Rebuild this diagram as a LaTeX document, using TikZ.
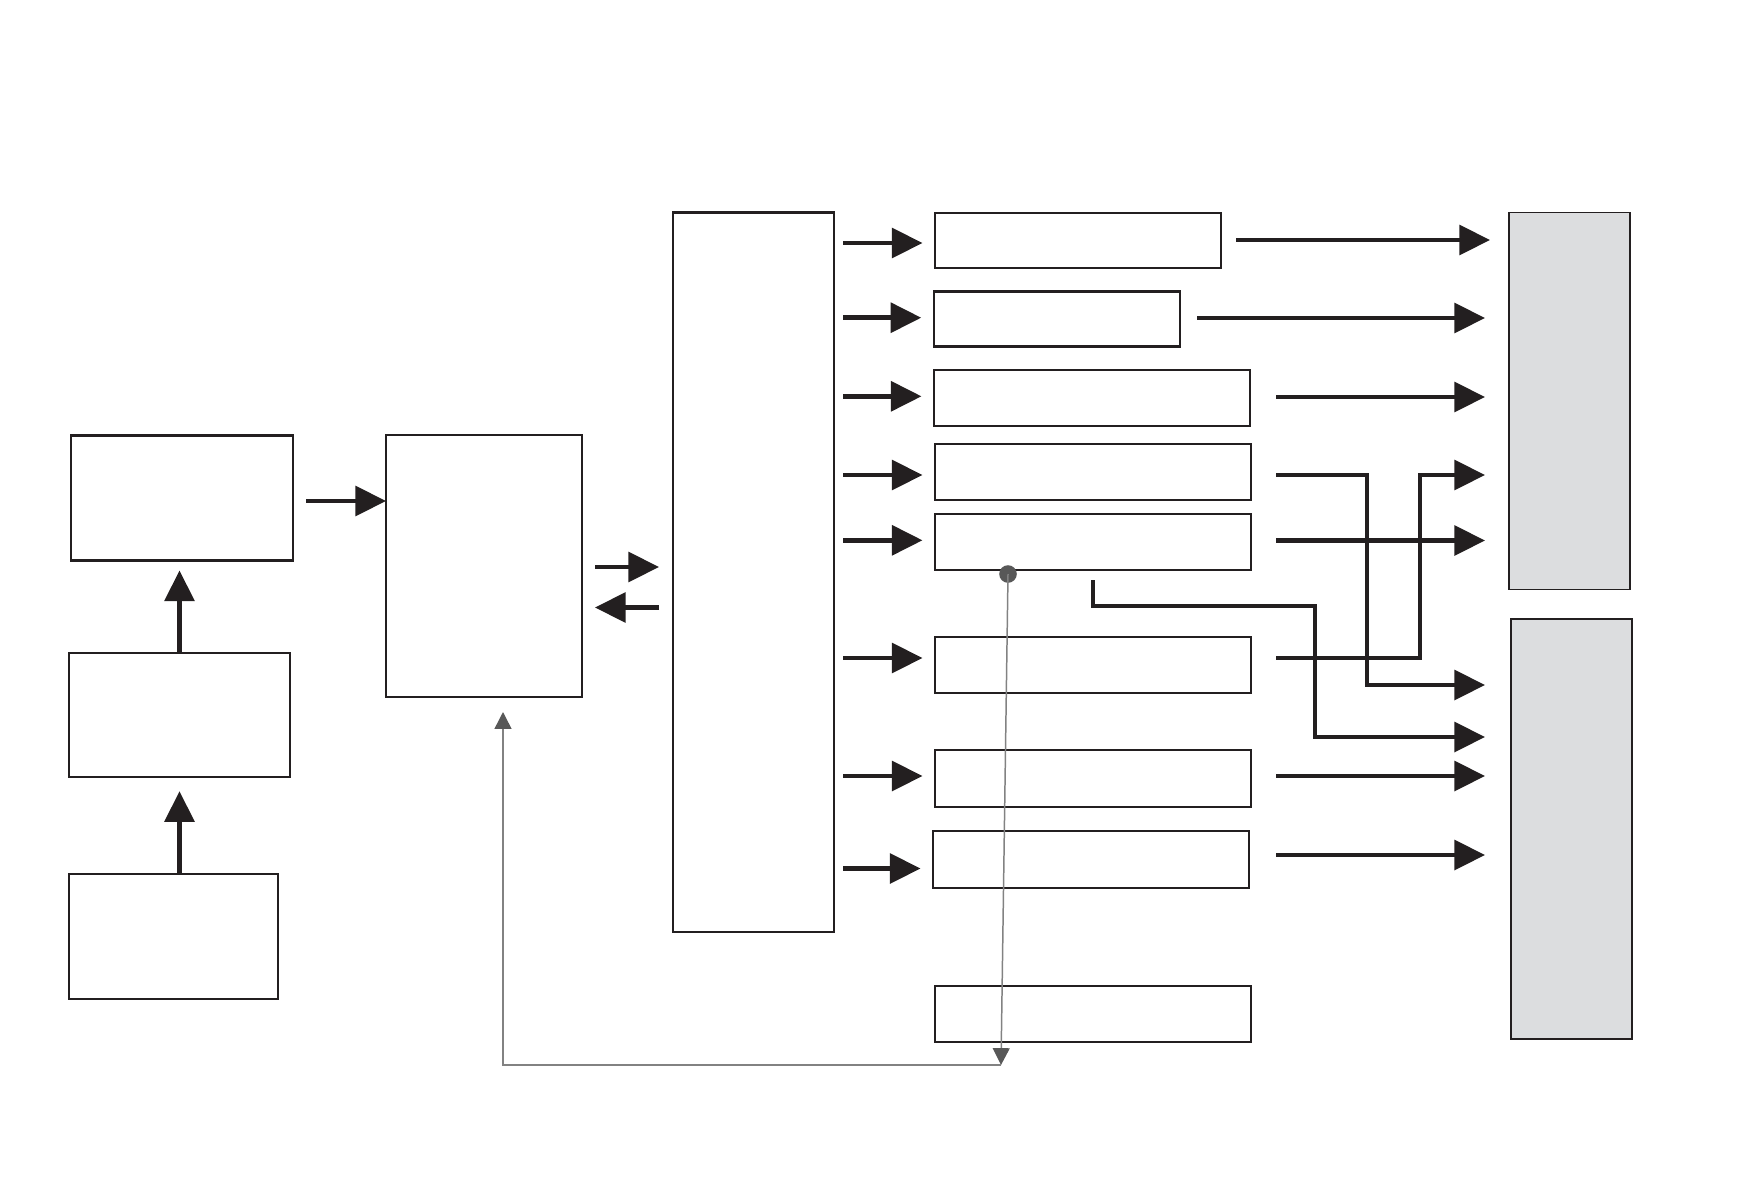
\documentclass[tikz,border=0pt]{standalone}
\usepackage{tikz}
\usetikzlibrary{arrows.meta}
\newlength{\pxlen}
\setlength{\pxlen}{0.02cm}
\definecolor{BlockLine}{RGB}{35,31,32}
\definecolor{BlockGray}{RGB}{220,221,223}
\definecolor{LinkGray}{RGB}{130,130,130}
\definecolor{TipGray}{RGB}{88,88,88}

\begin{document}
\begin{tikzpicture}[x=1\pxlen,y=-1\pxlen,blk/.style n args={2}{draw=BlockLine,line width=1.15pt,minimum width=#1\pxlen,minimum height=#2\pxlen,inner sep=0pt,outer sep=0pt,rectangle},gry/.style n args={2}{blk={#1}{#2},fill=BlockGray,line width=0.85pt},thk/.style={draw=BlockLine,line width=2.6pt,-{Triangle[length=17.4pt,width=16.8pt]}},fbk/.style={draw=LinkGray,line width=0.85pt,-{Triangle[length=9.6pt,width=9.6pt,color=TipGray]}}]
\useasboundingbox (0,0) rectangle (1764,1190);
% left column and controller
   \node[blk={221.5}{125}](a) at(182,498) {};
   \node[blk={221.5}{124.5}](b) at(179.5,715) {};
   \node[blk={209.5}{125}](c) at(173.3,936.5) {};
   \node[blk={196}{262}](d) at(484,566) {};
   \node[blk={161}{719}](e) at(753.5,572) {};
% output stages
   \node[blk={286}{55}](f1) at(1078,240.5) {};
   \node[blk={246.5}{55}](f2) at(1057,319) {};
   \node[blk={316}{56}](f3) at(1092,398) {};
   \node[blk={316}{56}](f4) at(1093,472) {};
   \node[blk={316}{56}](f5) at(1093,542) {};
   \node[blk={316}{56}](f6) at(1093,665) {};
   \node[blk={316}{57}](f7) at(1093,778.5) {};
   \node[blk={316}{57}](f8) at(1091,859.5) {};
   \node[blk={316}{56}](f9) at(1093,1014) {};
   \node[gry={121}{377}](g1) at(1569.5,401) {};
   \node[gry={121}{420}](g2) at(1571.5,829) {};
\draw[thk,shorten >=10\pxlen] (b.north) -- (b.north |- a.south);
\draw[thk,shorten >=14\pxlen] (b.south |- c.north) -- (b.south);
\draw[thk,shorten <=13.5\pxlen] ([yshift=-3\pxlen]a.east) -- ([yshift=-3\pxlen]a.east -| d.west);
\draw[thk,shorten <=13\pxlen,shorten >=14\pxlen] ([yshift=-1\pxlen]d.east) -- ([yshift=-1\pxlen]d.east -| e.west);
\draw[thk,shorten <=14\pxlen,shorten >=13\pxlen] ([yshift=-41.5\pxlen]d.east -| e.west) -- ([yshift=-41.5\pxlen]d.east);
\foreach \n/\dy in %
{f1/2.5,f2/-1.3,f3/-1.7,f4/3,f5/-1.7,f6/-7,f7/-2.5,f8/9} {
   \draw[thk,shorten <=9\pxlen,shorten >=12.5\pxlen] ([shift={(0,\dy)}]e.east |- \n.west) -- ([shift={(0,\dy)}]\n.west);
}
\foreach \n/\g/\dy/\s/\t in %
{f1/g1/-0.5/15/19,f2/g1/-1/17/24,f3/g1/-1/26/24,f5/g1/-1.5/25/24,f7/g2/-2.5/25/26,f8/g2/-4.5/27/26} {
   \draw[thk,shorten <=\s\pxlen,shorten >=\t\pxlen] ([shift={(0,\dy)}]\n.east) -- ([shift={(0,\dy)}]\n.east -| \g.west);
}
\draw[thk,shorten >=26\pxlen] ([shift={(25,3)}]f4.east) -| (1367,685) -- (g2.west |- 0,685);
\draw[thk,shorten >=24\pxlen] ([shift={(25,-7)}]f6.east) -| (1420,475) -- (g1.west |- 0,475);
\draw[thk,shorten >=26\pxlen] ([yshift=-10\pxlen]f5.south) |- (1315,606) |- (g2.west |- 0,737);
% feedback
   \node[circle,fill=TipGray,inner sep=0pt,minimum size=17.6\pxlen](dot) at(1008,574) {};
   \coordinate(fb) at(1001,1065);
\draw[fbk] (dot.center) -- (fb);
\draw[fbk,shorten >=15\pxlen] (fb) -| (503,0 |- d.south);
\end{tikzpicture}
\end{document}
